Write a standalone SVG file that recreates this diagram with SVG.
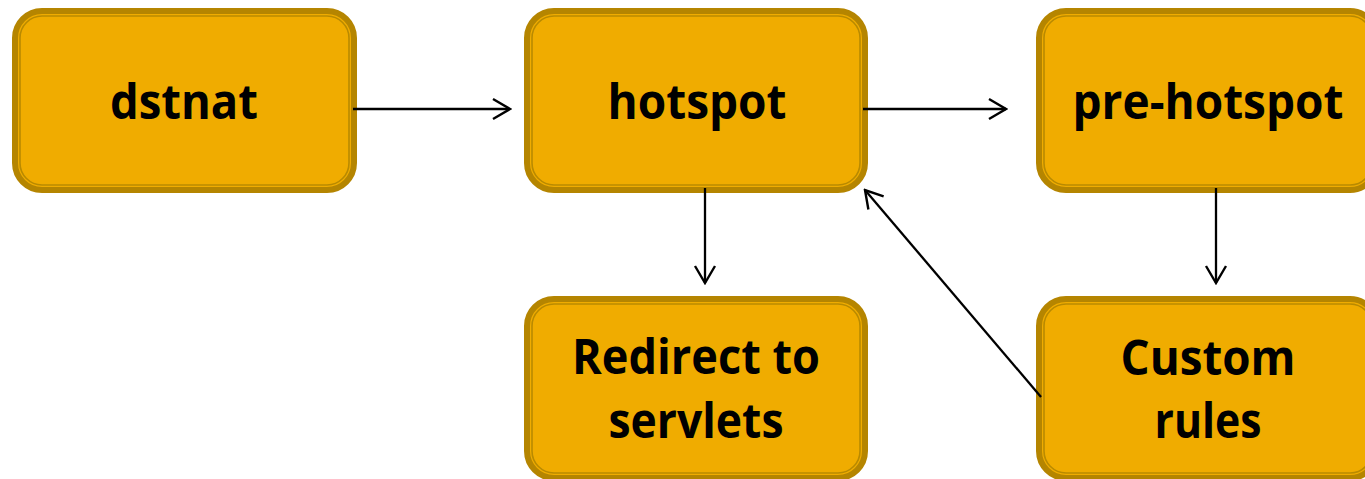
<svg xmlns="http://www.w3.org/2000/svg" width="1365" height="479" viewBox="0 0 1365 479">
  <defs>
    <style>
      .frame { fill: #F0AC00; stroke: #B58500; stroke-width: 6; }
      .inner { fill: none; stroke: #B98A00; stroke-width: 1.6; }
      .label { font-family: "Open Sans", "DejaVu Sans", sans-serif; font-weight: 700; font-size: 49px; fill: #000; text-anchor: middle; }
      .edge { fill: none; stroke: #000; stroke-width: 2.3; marker-end: url(#chevron); }
    </style>
    <marker id="chevron" markerUnits="userSpaceOnUse" viewBox="-20 -12 22 24" refX="0" refY="0" markerWidth="22" markerHeight="24" orient="auto">
      <path d="M -17 -10 L 0 0 L -17 10" fill="none" stroke="#000" stroke-width="2.4" stroke-linejoin="miter"/>
    </marker>
  </defs>

  <g id="dstnat">
    <rect class="frame" x="15" y="11" width="339" height="179" rx="27"/>
    <rect class="inner" x="20" y="16" width="329" height="169" rx="22"/>
    <text class="label" x="184" y="119" textLength="148" lengthAdjust="spacingAndGlyphs">dstnat</text>
  </g>

  <g id="hotspot">
    <rect class="frame" x="527" y="11" width="338" height="179" rx="27"/>
    <rect class="inner" x="532" y="16" width="328" height="169" rx="22"/>
    <text class="label" x="697" y="119" textLength="179" lengthAdjust="spacingAndGlyphs">hotspot</text>
  </g>

  <g id="pre-hotspot">
    <rect class="frame" x="1039" y="11" width="338" height="179" rx="27"/>
    <rect class="inner" x="1044" y="16" width="328" height="169" rx="22"/>
    <text class="label" x="1208" y="119" textLength="271" lengthAdjust="spacingAndGlyphs">pre-hotspot</text>
  </g>

  <g id="redirect">
    <rect class="frame" x="527" y="299" width="338" height="179" rx="27"/>
    <rect class="inner" x="532" y="304" width="328" height="169" rx="22"/>
    <text class="label" x="696" y="374" textLength="248" lengthAdjust="spacingAndGlyphs">Redirect to</text>
    <text class="label" x="696" y="438" textLength="175" lengthAdjust="spacingAndGlyphs">servlets</text>
  </g>

  <g id="custom-rules">
    <rect class="frame" x="1039" y="299" width="338" height="179" rx="27"/>
    <rect class="inner" x="1044" y="304" width="328" height="169" rx="22"/>
    <text class="label" x="1208" y="375" textLength="175" lengthAdjust="spacingAndGlyphs">Custom</text>
    <text class="label" x="1208" y="438" textLength="107" lengthAdjust="spacingAndGlyphs">rules</text>
  </g>

  <!-- connectors sit on top of the node frames -->
  <g id="connectors">
    <line class="edge" x1="353" y1="109" x2="510" y2="109"/>
    <line class="edge" x1="863" y1="109" x2="1006" y2="109"/>
    <line class="edge" x1="705" y1="188" x2="705" y2="283"/>
    <line class="edge" x1="1216" y1="188" x2="1216" y2="283"/>
    <line class="edge" x1="1041" y1="397" x2="865" y2="190"/>
  </g>
</svg>
